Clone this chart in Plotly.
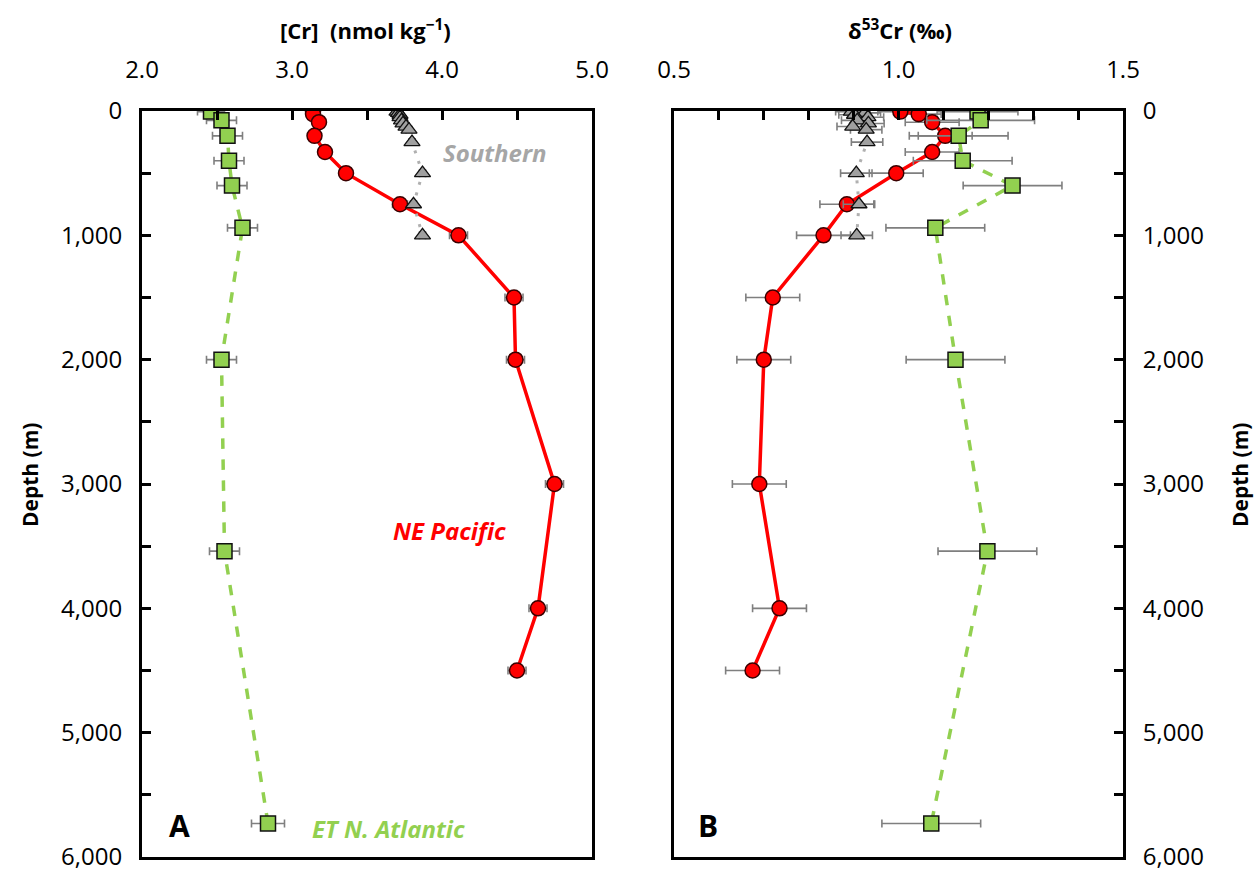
import plotly.graph_objects as go

# ---- data ----
# ET N. Atlantic (green squares)
atl_depth = [5, 75, 200, 400, 600, 940, 2000, 3540, 5730]
atl_cr = [2.46, 2.53, 2.57, 2.58, 2.60, 2.67, 2.53, 2.55, 2.84]
atl_cr_err = [0.09, 0.10, 0.10, 0.10, 0.10, 0.10, 0.10, 0.10, 0.11]
atl_d53 = [1.176, 1.183, 1.134, 1.143, 1.254, 1.082, 1.127, 1.198, 1.073]
atl_d53_err = [0.09, 0.12, 0.11, 0.11, 0.11, 0.11, 0.11, 0.11, 0.11]

# NE Pacific (red circles)
pac_depth = [5, 25, 90, 200, 330, 500, 750, 1000, 1500, 2000, 3000, 4000, 4500]
pac_cr = [3.14, 3.14, 3.18, 3.15, 3.22, 3.36, 3.72, 4.11, 4.48, 4.49, 4.75, 4.64, 4.50]
pac_cr_err = [0.03, 0.03, 0.03, 0.03, 0.04, 0.04, 0.05, 0.06, 0.06, 0.06, 0.06, 0.06, 0.06]
pac_d53 = [1.004, 1.045, 1.075, 1.104, 1.075, 0.995, 0.885, 0.833, 0.72, 0.70, 0.69, 0.735, 0.675]
pac_d53_err = [0.05, 0.05, 0.06, 0.06, 0.06, 0.06, 0.06, 0.06, 0.06, 0.06, 0.06, 0.06, 0.06]

# Southern (grey triangles)
sou_depth = [5, 15, 30, 50, 75, 100, 125, 150, 250, 500, 750, 1000]
sou_cr = [3.70, 3.71, 3.72, 3.72, 3.73, 3.74, 3.76, 3.78, 3.80, 3.87, 3.81, 3.87]
sou_cr_err = [0.02] * 12
sou_d53 = [0.895, 0.925, 0.902, 0.932, 0.908, 0.933, 0.898, 0.928, 0.93, 0.906, 0.912, 0.907]
sou_d53_err = [0.035] * 12

depth_ticks = [0, 1000, 2000, 3000, 4000, 5000, 6000]
cr_ticks = [2.0, 3.0, 4.0, 5.0]
d53_ticks = [0.5, 1.0, 1.5]

GREEN = "#92d050"
RED = "#ff0000"
GREY_FILL = "#a0a0a0"
GREY_LINE = "#b0b0b0"
ERR = "#7f7f7f"
FONT = "Open Sans"

W, H = 1259, 872


def px(xp):
    return xp / W


def py(yp):
    return 1 - yp / H


fig = go.Figure()


def add_series(x, y, err, xa, ya, line, marker, layer_name):
    fig.add_trace(go.Scatter(
        x=x, y=y, xaxis=xa, yaxis=ya, mode="lines+markers", name=layer_name,
        line=line, marker=marker,
        error_x=dict(type="data", array=err, visible=True, color=ERR,
                     thickness=1.6, width=4),
        showlegend=False, hoverinfo="skip",
    ))


for xa, ya, xs in [("x", "y", (atl_cr, pac_cr, sou_cr)),
                   ("x2", "y2", (atl_d53, pac_d53, sou_d53))]:
    errs = (atl_cr_err, pac_cr_err, sou_cr_err) if xa == "x" else (atl_d53_err, pac_d53_err, sou_d53_err)
    add_series(xs[1], pac_depth, errs[1], xa, ya,
               dict(color=RED, width=3.5),
               dict(symbol="circle", size=15, color=RED, line=dict(color="#3a0000", width=1.5)),
               "NE Pacific")
    add_series(xs[0], atl_depth, errs[0], xa, ya,
               dict(color=GREEN, width=3.5, dash="dash"),
               dict(symbol="square", size=15, color=GREEN, line=dict(color="#111111", width=1.5)),
               "ET N. Atlantic")
    add_series(xs[2], sou_depth, errs[2], xa, ya,
               dict(color=GREY_LINE, width=3, dash="3px,8px"),
               dict(symbol="triangle-up", size=14, color=GREY_FILL, line=dict(color="#111111", width=1.3)),
               "Southern")

xA = [px(142), px(592)]
xB = [px(674), px(1123)]
yD = [py(857), py(111)]

axis_common = dict(
    showline=True, linecolor="black", linewidth=3, mirror=True, automargin=False,
    showgrid=False, zeroline=False, ticks="inside", ticklen=9, tickwidth=3,
    tickcolor="black", tickfont=dict(family=FONT, size=24, color="black"),
    ticklabeloverflow="allow",
)
minor_common = dict(ticks="inside", ticklen=9, tickwidth=3, tickcolor="black")

fig.update_layout(
    width=W, height=H,
    margin=dict(l=0, r=0, t=0, b=0, autoexpand=False),
    paper_bgcolor="white", plot_bgcolor="white",
    xaxis=dict(domain=xA, anchor="y", side="top", range=[2.0, 5.0],
               tickvals=cr_ticks, ticktext=[f"{v:.1f}" for v in cr_ticks],
               ticklabelstandoff=20,
               minor=dict(tickvals=[2.5, 3.0, 3.5, 4.0, 4.5], **minor_common),
               **axis_common),
    yaxis=dict(domain=yD, anchor="x", range=[6000, 0],
               tickvals=depth_ticks, ticktext=[f"{v:,}" for v in depth_ticks],
               ticklabelstandoff=12,
               minor=dict(tickvals=[500, 1500, 2500, 3500, 4500, 5500], **minor_common),
               **axis_common),
    xaxis2=dict(domain=xB, anchor="y2", side="top", range=[0.5, 1.5],
                tickvals=d53_ticks, ticktext=[f"{v:.1f}" for v in d53_ticks],
                ticklabelstandoff=20,
                minor=dict(tickvals=[0.6, 0.7, 0.8, 0.9, 1.0, 1.1, 1.2, 1.3, 1.4], **minor_common),
                **axis_common),
    yaxis2=dict(domain=yD, anchor="x2", side="right", range=[6000, 0],
                tickvals=depth_ticks, ticktext=[f"{v:,}" for v in depth_ticks],
                ticklabelstandoff=12,
                minor=dict(tickvals=[500, 1500, 2500, 3500, 4500, 5500], **minor_common),
                **axis_common),
)

ann = []


def add_text(text, x, y, size, color, xref="paper", yref="paper", angle=0):
    ann.append(dict(text=text, x=x, y=y, xref=xref, yref=yref, showarrow=False,
                    xanchor="center", yanchor="middle", textangle=angle,
                    font=dict(family=FONT, size=size, color=color)))


# axis titles
add_text("<b>[Cr]  (nmol kg<sup>−1</sup>)</b>", px(365), py(30), 22, "black")
add_text("<b>δ<sup>53</sup>Cr (‰)</b>", px(900), py(30), 22, "black")
add_text("<b>Depth (m)</b>", px(30), py(475), 21, "black", angle=-90)
add_text("<b>Depth (m)</b>", px(1240), py(475), 21, "black", angle=-90)
# series labels
add_text("<b><i>Southern</i></b>", 4.35, 330, 24, "#a6a6a6", "x", "y")
add_text("<b><i>NE Pacific</i></b>", 4.05, 3370, 24, RED, "x", "y")
add_text("<b><i>ET N. Atlantic</i></b>", 3.64, 5770, 24, GREEN, "x", "y")
# panel letters
add_text("<b>A</b>", 2.25, 5750, 30, "black", "x", "y")
add_text("<b>B</b>", 0.575, 5750, 30, "black", "x2", "y2")
fig.update_layout(annotations=ann)

# remove the default 8px page margin so the figure fills the window exactly
fig.write_html(
    "out.html",
    config={"displayModeBar": False},
    post_script="document.body.style.margin='0';document.body.style.overflow='hidden';",
)
